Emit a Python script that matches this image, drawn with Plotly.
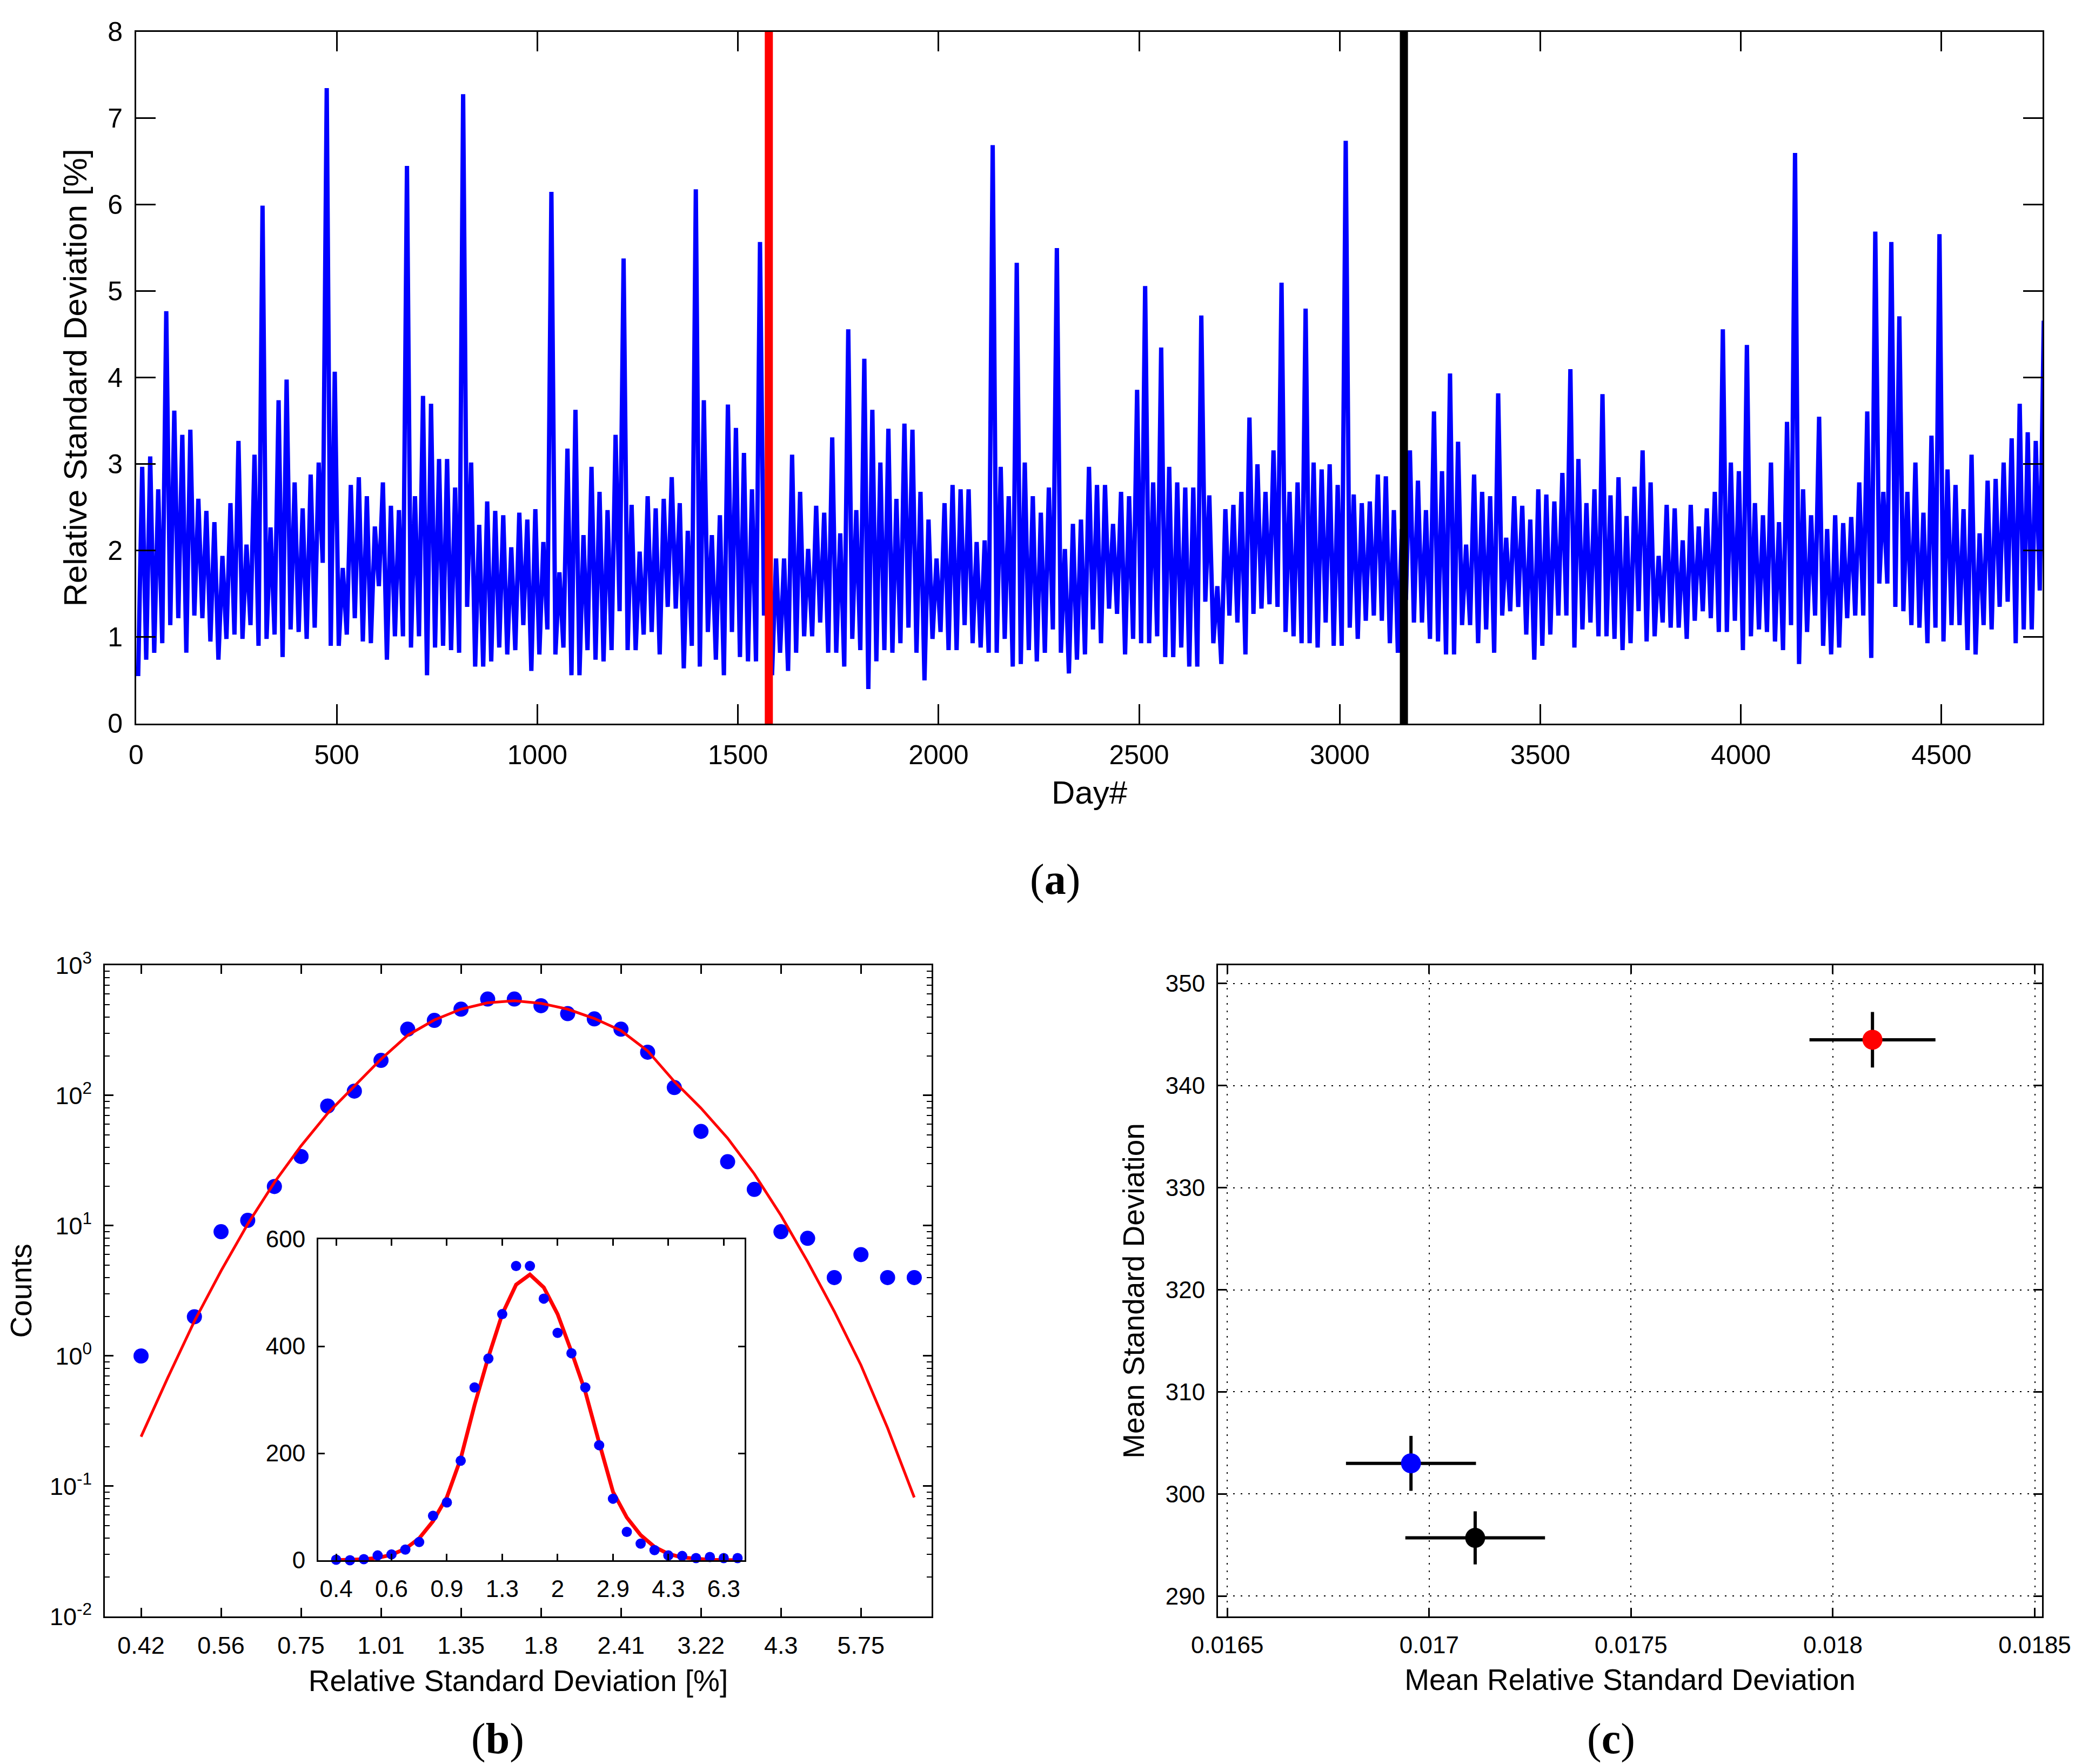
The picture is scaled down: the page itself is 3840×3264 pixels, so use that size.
import plotly.graph_objects as go

FONT = "Liberation Sans, Arial, sans-serif"
SERIF = "Liberation Serif, Times New Roman, serif"

# ---------------- Panel (a): daily relative standard deviation [%] ----------------
# min / max of the series in every 20-day bin
a_bin_start = list(range(0, 4760, 20))
a_high = [
    2.97, 3.09, 2.71, 4.77, 3.62, 3.34, 3.40, 2.60, 2.46, 2.33,
    1.94, 2.55, 3.27, 2.07, 3.11, 5.99, 2.27, 3.74, 3.98, 2.79,
    2.49, 2.88, 3.02, 7.35, 4.07, 1.80, 2.76, 2.85, 2.63, 2.28,
    2.79, 2.52, 2.47, 6.45, 2.63, 3.79, 3.70, 3.06, 3.06, 2.73,
    7.28, 3.02, 2.30, 2.57, 2.46, 2.41, 2.04, 2.44, 2.36, 2.48,
    2.10, 6.15, 1.75, 3.18, 3.63, 2.18, 2.97, 2.68, 2.47, 3.34,
    5.38, 2.53, 1.99, 2.63, 2.49, 2.60, 2.85, 2.55, 2.23, 6.18,
    3.74, 2.18, 2.41, 3.69, 3.42, 3.13, 2.71, 5.57, 2.52, 1.91,
    1.91, 3.11, 2.68, 2.02, 2.52, 2.44, 3.31, 2.20, 4.56, 2.47,
    4.22, 3.63, 3.02, 3.41, 2.60, 3.47, 3.40, 2.68, 2.36, 1.91,
    2.55, 2.76, 2.71, 2.71, 2.10, 2.12, 6.69, 2.97, 2.63, 5.33,
    3.02, 2.63, 2.44, 2.73, 5.50, 2.02, 2.31, 2.36, 2.97, 2.76,
    2.76, 2.31, 2.68, 2.63, 3.86, 5.06, 2.79, 4.35, 2.97, 2.79,
    2.73, 2.73, 4.72, 2.64, 1.59, 2.48, 2.53, 2.68, 3.54, 3.00,
    2.68, 3.16, 5.10, 2.68, 2.79, 4.80, 3.02, 2.94, 3.00, 2.76,
    6.74, 2.65, 2.55, 2.57, 2.88, 2.86, 2.47, 2.25, 3.16, 2.81,
    2.47, 3.61, 2.92, 4.05, 3.26, 2.07, 2.88, 2.68, 2.63, 3.82,
    2.15, 2.63, 2.52, 2.36, 2.71, 2.65, 2.57, 2.90, 4.10, 3.06,
    2.55, 2.71, 3.81, 2.64, 2.85, 2.40, 2.74, 3.16, 2.79, 1.94,
    2.53, 2.49, 2.12, 2.53, 2.28, 2.49, 2.68, 4.56, 3.02, 2.92,
    4.38, 2.55, 2.41, 3.02, 2.33, 3.49, 6.60, 2.71, 2.41, 3.55,
    2.25, 2.41, 2.32, 2.39, 2.79, 3.61, 5.69, 2.68, 5.57, 4.71,
    2.68, 3.02, 2.44, 3.33, 5.66, 2.94, 2.76, 2.48, 3.11, 2.20,
    2.81, 2.83, 3.02, 3.30, 3.70, 3.37, 3.27, 4.66,
]
a_low = [
    0.55, 0.74, 0.82, 0.93, 1.14, 1.22, 0.82, 1.25, 1.22, 0.95,
    0.74, 0.98, 1.03, 0.98, 1.14, 0.90, 0.98, 1.03, 0.77, 1.09,
    1.06, 0.98, 1.11, 1.86, 0.90, 0.90, 1.03, 1.22, 0.95, 0.93,
    1.59, 0.74, 1.01, 1.01, 0.88, 1.01, 0.56, 0.88, 0.90, 0.85,
    0.82, 1.35, 0.66, 0.66, 0.72, 0.88, 0.80, 0.85, 1.14, 0.61,
    0.80, 1.09, 0.80, 0.88, 0.56, 0.56, 0.85, 0.74, 0.72, 0.85,
    1.30, 0.85, 0.85, 1.03, 1.06, 0.80, 1.35, 1.33, 0.64, 0.90,
    0.66, 1.06, 0.74, 0.56, 1.06, 0.77, 0.72, 0.72, 1.25, 0.56,
    0.82, 0.61, 0.82, 1.01, 1.01, 1.17, 0.82, 0.82, 0.66, 0.98,
    0.85, 0.40, 0.72, 0.85, 0.82, 0.93, 1.11, 0.82, 0.50, 0.98,
    1.06, 0.85, 0.85, 1.14, 0.93, 0.88, 0.82, 0.82, 0.98, 0.66,
    0.69, 0.85, 0.72, 0.82, 1.09, 0.82, 0.58, 0.74, 0.80, 1.09,
    0.93, 1.33, 1.27, 0.80, 0.98, 0.93, 0.93, 1.01, 0.77, 0.77,
    0.88, 0.66, 0.66, 1.41, 0.93, 0.69, 1.25, 1.17, 0.80, 1.27,
    1.33, 1.38, 1.35, 1.06, 1.01, 0.93, 0.93, 0.88, 1.17, 0.90,
    0.90, 1.11, 0.98, 1.19, 1.25, 1.19, 0.93, 0.82, 1.43, 1.17,
    1.17, 0.98, 0.95, 0.80, 0.80, 1.14, 1.14, 0.93, 1.09, 0.82,
    1.25, 1.30, 1.35, 1.03, 0.74, 0.90, 1.03, 1.25, 1.25, 0.88,
    1.09, 1.17, 1.01, 1.01, 0.98, 0.85, 0.93, 1.30, 0.95, 1.01,
    1.17, 1.11, 1.11, 0.98, 1.19, 1.30, 1.22, 1.06, 1.06, 1.19,
    0.85, 1.01, 1.09, 1.06, 0.95, 0.85, 1.14, 0.69, 1.06, 1.25,
    0.90, 0.80, 0.88, 1.22, 1.25, 1.25, 0.76, 1.62, 1.62, 1.35,
    1.30, 1.14, 1.11, 0.93, 1.11, 0.95, 1.14, 1.14, 0.85, 0.80,
    1.14, 1.09, 1.35, 1.41, 0.93, 1.09, 1.09, 1.54,
]
a_event_days = [1577, 3160]
a_event_colors = ["#ff0000", "#000000"]
a_xticks = [0, 500, 1000, 1500, 2000, 2500, 3000, 3500, 4000, 4500]

# ---------------- Panel (b): histogram of relative standard deviation ----------------
b_bin_center = [0.420, 0.4628, 0.5099, 0.5618, 0.6190, 0.6820, 0.7514, 0.8279,
                0.9122, 1.0050, 1.1074, 1.2201, 1.3443, 1.4811, 1.6319, 1.7980,
                1.9811, 2.1828, 2.4050, 2.6498, 2.9196, 3.2168, 3.5443, 3.9051,
                4.3026, 4.7406, 5.2232, 5.7549, 6.3407, 6.9862]
b_counts = [1, 0, 2, 9, 11, 20, 34, 83, 108, 186, 323, 377, 460, 550, 550,
            489, 425, 387, 323, 215, 115, 53, 31, 19, 9, 8, 4, 6, 4, 4]
b_fit = [0.24, 0.68, 1.85, 4.5, 10.3, 21.5, 41, 73, 118, 190, 290, 380, 460, 515, 534,
         510, 460, 390, 315, 220, 128, 80, 47, 25, 12, 5.3, 2.2, 0.85, 0.28, 0.082]
b_main_tick_idx = [0, 3, 6, 9, 12, 15, 18, 21, 24, 27]
b_main_ticklabels = ["0.42", "0.56", "0.75", "1.01", "1.35", "1.8", "2.41", "3.22", "4.3", "5.75"]
b_inset_tick_idx = [0, 4, 8, 12, 16, 20, 24, 28]
b_inset_ticklabels = ["0.4", "0.6", "0.9", "1.3", "2", "2.9", "4.3", "6.3"]
b_y_decades = [0.01, 0.1, 1, 10, 100, 1000]
b_y_ticklabels = ["10<sup>-2</sup>", "10<sup>-1</sup>", "10<sup>0</sup>",
                  "10<sup>1</sup>", "10<sup>2</sup>", "10<sup>3</sup>"]

# ---------------- Panel (c): mean RSD vs mean SD ----------------
c_mean_rsd = [0.018098, 0.016955, 0.017114]
c_mean_sd = [344.5, 303.0, 295.7]
c_err_rsd = [0.000156, 0.000161, 0.000173]
c_err_sd = [2.72, 2.69, 2.60]
c_colors = ["#ff0000", "#0000ff", "#000000"]
c_xticks = [0.0165, 0.017, 0.0175, 0.018, 0.0185]
c_xticklabels = ["0.0165", "0.017", "0.0175", "0.018", "0.0185"]

fig = go.Figure()

# ---- (a) series, drawn as min/max zig-zag per bin
a_x, a_y = [], []
for d, lo, hi in zip(a_bin_start, a_low, a_high):
    a_x += [d + 5, d + 15]
    a_y += [lo, hi]
fig.add_trace(go.Scatter(x=a_x, y=a_y, mode="lines",
                         line=dict(color="#0000ff", width=8, shape="linear"),
                         xaxis="x", yaxis="y", hoverinfo="skip"))
for d, col in zip(a_event_days, a_event_colors):
    fig.add_trace(go.Scatter(x=[d, d], y=[0, 8], mode="lines", line=dict(color=col, width=15),
                             xaxis="x", yaxis="y"))

# ---- (b) main log-log histogram
fig.add_trace(go.Scatter(x=b_bin_center, y=[c if c > 0 else None for c in b_counts],
                         mode="markers", marker=dict(color="#0000ff", size=28, symbol="circle"),
                         xaxis="x2", yaxis="y2"))
fig.add_trace(go.Scatter(x=b_bin_center, y=b_fit, mode="lines",
                         line=dict(color="#ff0000", width=5), xaxis="x2", yaxis="y2"))

# ---- (b) inset linear histogram
b_idx = list(range(len(b_counts)))
fig.add_trace(go.Scatter(x=b_idx, y=b_fit, mode="lines",
                         line=dict(color="#ff0000", width=7), xaxis="x3", yaxis="y3"))
fig.add_trace(go.Scatter(x=b_idx, y=b_counts, mode="markers",
                         marker=dict(color="#0000ff", size=19, symbol="circle"),
                         xaxis="x3", yaxis="y3", cliponaxis=False))

# ---- (c) points with error bars
for xv, yv, ex, ey, col in zip(c_mean_rsd, c_mean_sd, c_err_rsd, c_err_sd, c_colors):
    fig.add_trace(go.Scatter(
        x=[xv], y=[yv], mode="markers",
        marker=dict(color=col, size=37, symbol="circle"),
        error_x=dict(type="data", array=[ex], color="black", thickness=6, width=0),
        error_y=dict(type="data", array=[ey], color="black", thickness=6, width=0),
        xaxis="x4", yaxis="y4"))


def axis(size=45, ticklen=16, **kw):
    base = dict(showline=True, linecolor="black", linewidth=3, mirror="allticks",
                ticks="inside", tickcolor="black", tickwidth=3, ticklen=ticklen,
                showgrid=False, zeroline=False, ticklabelstandoff=12,
                tickfont=dict(family=FONT, size=size, color="black"))
    base.update(kw)
    return base


def title(text, size, standoff):
    return dict(text=text, font=dict(family=FONT, size=size, color="black"), standoff=standoff)


minor_log = [m * d for d in b_y_decades[:-1] for m in range(2, 10)]

caption_font = dict(family=SERIF, size=80, color="black")

fig.update_layout(
    width=3840, height=3264, margin=dict(l=0, r=0, t=0, b=0), autosize=False,
    template="none", paper_bgcolor="white", plot_bgcolor="white", showlegend=False,
    font=dict(family=FONT, color="black"),
    xaxis=axis(size=50, ticklen=36, domain=[0.06354, 0.98229], anchor="y",
               range=[0, 4752], tickmode="array", tickvals=a_xticks,
               title=title("Day#", 60, 22)),
    yaxis=axis(size=50, ticklen=36, domain=[0.59222, 0.98438], anchor="x",
               range=[0, 8], dtick=1, tick0=0,
               title=title("Relative Standard Deviation [%]", 60, 20)),
    xaxis2=axis(size=45, ticklen=16, domain=[0.04844, 0.44688], anchor="y2", type="log",
                range=[-0.43395, 0.87162], tickmode="array",
                tickvals=[b_bin_center[i] for i in b_main_tick_idx], ticktext=b_main_ticklabels,
                title=title("Relative Standard Deviation [%]", 55, 22)),
    yaxis2=axis(size=45, ticklen=16, domain=[0.08609, 0.45527], anchor="x2", type="log",
                range=[-2, 3], tickmode="array", tickvals=b_y_decades, ticktext=b_y_ticklabels,
                minor=dict(tickmode="array", tickvals=minor_log, ticks="inside", ticklen=9,
                           tickcolor="black", tickwidth=2),
                title=title("Counts", 55, 28)),
    xaxis3=axis(size=44, ticklen=12, domain=[0.15130, 0.35677], anchor="y3",
                range=[-1.29, 29.51], tickmode="array", tickvals=b_inset_tick_idx,
                ticktext=b_inset_ticklabels),
    yaxis3=axis(size=44, ticklen=12, domain=[0.11795, 0.29994], anchor="x3",
                range=[0, 600], dtick=200, tick0=0),
    xaxis4=axis(size=44, ticklen=16, domain=[0.58490, 0.98203], anchor="y4",
                range=[0.016477, 0.018518], tickmode="array", tickvals=c_xticks,
                ticktext=c_xticklabels, showgrid=True, gridcolor="black", gridwidth=2,
                griddash="3px,11px",
                title=title("Mean Relative Standard Deviation", 55, 22)),
    yaxis4=axis(size=44, ticklen=16, domain=[0.08609, 0.45527], anchor="x4",
                range=[288.0, 351.8], dtick=10, tick0=290, showgrid=True, gridcolor="black",
                gridwidth=2, griddash="3px,11px",
                title=title("Mean Standard Deviation", 55, 22)),
    annotations=[
        dict(text="(<b>a</b>)", x=0.50625, y=0.50398, xref="paper", yref="paper",
             showarrow=False, xanchor="center", yanchor="middle", font=caption_font),
        dict(text="(<b>b</b>)", x=0.23776, y=0.0025, xref="paper", yref="paper",
             showarrow=False, xanchor="center", yanchor="bottom", font=caption_font),
        dict(text="(<b>c</b>)", x=0.77422, y=0.0025, xref="paper", yref="paper",
             showarrow=False, xanchor="center", yanchor="bottom", font=caption_font),
    ],
)

fig.write_html("out.html")
